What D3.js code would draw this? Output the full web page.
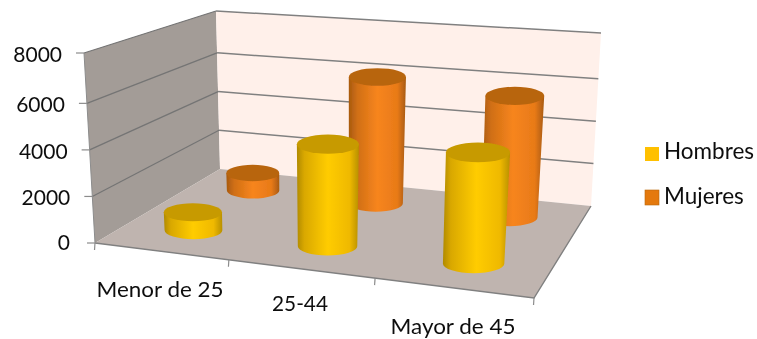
<!DOCTYPE html>
<html><head><meta charset="utf-8">
<script src="https://cdn.jsdelivr.net/npm/d3@7"></script>
<style>html,body{margin:0;padding:0;background:#fff}svg{display:block}text{font-family:Lato,"Open Sans",sans-serif;fill:#111}</style>
</head><body><svg id="c" width="757" height="339"></svg>
<script>
const categories = ["Menor de 25", "25-44", "Mayor de 45"];
const seriesNames = ["Mujeres", "Hombres"];
const mujeres = [850, 6000, 5600];
const hombres = [800, 4400, 4650];
const valueTicks = [0, 2000, 4000, 6000, 8000];

const corners = {
  fl0:[95,243], fr0:[534,298], bl0:[220,169], br0:[591,206],
  fl1:[84,53],  fr1:[546,90],  bl1:[216,11],  br1:[601,33]
};
const lerp = (a,b,t)=>[a[0]+(b[0]-a[0])*t, a[1]+(b[1]-a[1])*t];
const yScale = d3.scaleLinear().domain([0,6000,8000]).range([0,0.735,1]);
const uScale = d3.scaleLinear().domain([0,1,2,3]).range([0,0.305,0.638,1]);
const vScale = d3.scalePoint().domain(["Hombres","Mujeres"]).range([0.275,0.795]);
function project(u,v,value){
  const t = yScale(value);
  const f = lerp(lerp(corners.fl0,corners.fr0,u), lerp(corners.fl1,corners.fr1,u), t);
  const b = lerp(lerp(corners.bl0,corners.br0,u), lerp(corners.bl1,corners.br1,u), t);
  return lerp(f,b,v);
}
const svg = d3.select("#c");
const defs = svg.append("defs");
defs.append("filter").attr("id","soft").attr("x","-5%").attr("y","-5%").attr("width","110%").attr("height","110%")
  .append("feGaussianBlur").attr("stdDeviation",0.45);
function grad(id,stops){
  const g = defs.append("linearGradient").attr("id",id).attr("x1",0).attr("x2",1).attr("y1",0).attr("y2",0);
  stops.forEach(s=>g.append("stop").attr("offset",s[0]).attr("stop-color",s[1]));
}
grad("gH",[[0,"#b08a00"],[0.12,"#d9a800"],[0.5,"#ffcc00"],[0.85,"#efb900"],[1,"#b89000"]]);
grad("gM",[[0,"#a85a10"],[0.15,"#d06f14"],[0.5,"#f7851e"],[0.85,"#e87a18"],[1,"#a85a10"]]);
const root = svg.append("g").attr("filter","url(#soft)");
const poly = pts => "M"+pts.map(p=>p.join(",")).join("L")+"Z";

root.append("path").attr("d",poly([corners.fl0,corners.fl1,corners.bl1,corners.bl0])).attr("fill","#a39c97");
root.append("path").attr("d",poly([corners.bl0,corners.bl1,corners.br1,corners.br0])).attr("fill","#fff0ea");
root.append("path").attr("d",poly([corners.fl0,corners.fr0,corners.br0,corners.bl0])).attr("fill","#bfb4af");

valueTicks.forEach(t=>{
  const a=project(0,0,t), b=project(0,1,t), c=project(1,1,t);
  if(t>0) root.append("path").attr("d",`M${a}L${b}`).attr("fill","none").attr("stroke","#747474").attr("stroke-width",1.2);
  if(t>0) root.append("path").attr("d",`M${b}L${c}`).attr("fill","none").attr("stroke","#808080").attr("stroke-width",1.5);
  root.append("path").attr("d",`M${a}L${[a[0]-8,a[1]]}`).attr("fill","none").attr("stroke","#8c8c8c").attr("stroke-width",1.2);
  root.append("text").attr("x",a[0]-(t>0?22:25)).attr("y",a[1]+(t>0?9:7)).attr("text-anchor","end").attr("font-size",21).text(t);
});
root.append("path").attr("d",`M${corners.fl0}L${corners.fr0}L${corners.br0}`).attr("fill","none").attr("stroke","#808080").attr("stroke-width",1.4);
root.append("path").attr("d",`M${corners.fl0}L${corners.fl1}`).attr("fill","none").attr("stroke","#8c8c8c").attr("stroke-width",1);
const catLabelPos = [[160,297,127],[300,311,56],[453,334,125]];
[0,1,2,3].forEach(i=>{
  const p=project(uScale(i),0,0);
  root.append("path").attr("d",`M${p}L${[p[0]-0.5,p[1]+7]}`).attr("fill","none").attr("stroke","#8c8c8c").attr("stroke-width",1.2);
});
categories.forEach((c,i)=>{
  root.append("text").attr("x",catLabelPos[i][0]).attr("y",catLabelPos[i][1]).attr("text-anchor","middle").attr("font-size",21.5)
    .attr("textLength",catLabelPos[i][2]).attr("lengthAdjust","spacingAndGlyphs").text(c);
});
const K = 0.157, RY = 0.31;
function cylinder(i,name,value,gradId,topFill){
  const u = uScale(i+0.5), v = vScale(name);
  const base = project(u,v,0), top = project(u,v,value), full = project(u,v,8000);
  const H = Math.hypot(full[0]-base[0], full[1]-base[1]);
  const rb = K*H, rt = rb*(1+yScale(value)*0.08);
  const ryb = rb*RY, ryt = rt*RY;
  const g = root.append("g");
  g.append("path").attr("d",
    `M${top[0]-rt},${top[1]}L${base[0]-rb},${base[1]}`+
    `A${rb},${ryb} 0 0 0 ${base[0]+rb},${base[1]}`+
    `L${top[0]+rt},${top[1]}Z`).attr("fill",`url(#${gradId})`);
  g.append("ellipse").attr("cx",top[0]).attr("cy",top[1]).attr("rx",rt).attr("ry",ryt).attr("fill",topFill);
}
categories.forEach((c,i)=>cylinder(i,"Mujeres",mujeres[i],"gM","#b8650f"));
categories.forEach((c,i)=>cylinder(i,"Hombres",hombres[i],"gH","#c79a00"));
const legendRows=[["Hombres","#ffc000",null,147,14,159],["Mujeres","#e4790f","#b8650f",190,15,204]];
legendRows.forEach(r=>{
  root.append("rect").attr("x",645).attr("y",r[3]).attr("width",14).attr("height",r[4]).attr("fill",r[1]).attr("stroke",r[2]||"none").attr("stroke-width",0.6);
  root.append("text").attr("x",664).attr("y",r[5]).attr("font-size",22.5).text(r[0]);
});
</script></body></html>
